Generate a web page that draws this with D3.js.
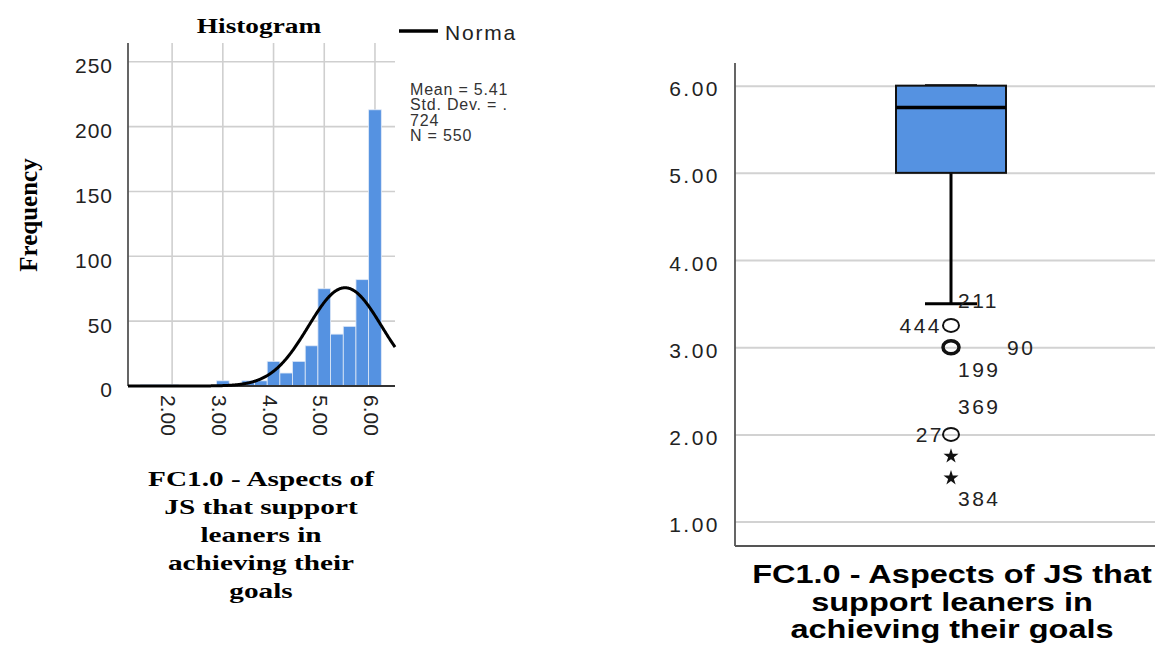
<!DOCTYPE html>
<html>
<head>
<meta charset="utf-8">
<script src="https://cdn.jsdelivr.net/npm/d3@7"></script>
<style>
  body { margin: 0; background: #fff; }
  text { font-family: "Liberation Sans", Arial, sans-serif; fill: #222; }
</style>
</head>
<body>
<div id="chart"></div>
<script>
// histogram data (bin centre, frequency)
const binCenters = [1.5, 1.75, 2.0, 3.0, 3.5, 3.75, 4.0, 4.25, 4.5, 4.75, 5.0, 5.25, 5.5, 5.75, 6.0];
const binCounts  = [1, 1, 1, 4, 4, 4, 19, 10, 19, 31, 75, 40, 46, 82, 213];
const binWidth = 0.25;
const histXTicks = [2, 3, 4, 5, 6];
const histYTicks = [0, 50, 100, 150, 200, 250];
const statMean = 5.41, statSd = 0.724, statN = 550;
const statLines = ["Mean = 5.41", "Std. Dev. = .", "724", "N = 550"];
const histTitleLines = ["FC1.0 - Aspects of", "JS that support", "leaners in", "achieving their", "goals"];

// boxplot data
const boxSummary = [3.5, 5, 5.75, 6, 6]; // low whisker, q1, median, q3, high whisker
const boxYTicks = [1, 2, 3, 4, 5, 6];
const outlierValues  = [3.25, 3, 2, 1.75, 1.5];
const outlierSymbols = ["circle", "bold", "circle", "star", "star"];
const caseIds    = ["211", "444", "90", "199", "369", "27", "384"];
const caseValues = [3.5, 3.25, 3, 3, 2, 2, 1.5];
const boxTitleLines = ["FC1.0 - Aspects of JS that", "support leaners in", "achieving their goals"];

const width = 1155, height = 648;
const blue = "#5592e1";
const serif = "'Liberation Serif', 'Times New Roman', serif";

const svg = d3.select("#chart").append("svg")
    .attr("width", width)
    .attr("height", height);

// ---------- histogram ----------
const hx = d3.scaleLinear().domain([1.13, 6.395]).range([128, 395]);
const hy = d3.scaleLinear().domain([0, 264.5]).range([386, 43]);

// gridlines
svg.append("g")
    .selectAll("line")
    .data(histXTicks)
    .join("line")
    .attr("x1", d => hx(d)).attr("x2", d => hx(d))
    .attr("y1", hy.range()[1]).attr("y2", hy(0))
    .attr("stroke", "#cfcfcf").attr("stroke-width", 1.6);
svg.append("g")
    .selectAll("line")
    .data(histYTicks.filter(d => d > 0))
    .join("line")
    .attr("x1", hx.range()[0]).attr("x2", hx.range()[1])
    .attr("y1", d => hy(d)).attr("y2", d => hy(d))
    .attr("stroke", "#cfcfcf").attr("stroke-width", 1.6);

// bars
svg.append("g")
    .selectAll("rect")
    .data(binCenters)
    .join("rect")
    .attr("x", d => hx(d - binWidth / 2))
    .attr("width", d => hx(d + binWidth / 2) - hx(d - binWidth / 2))
    .attr("y", (d, i) => hy(binCounts[i]))
    .attr("height", (d, i) => hy(0) - hy(binCounts[i]))
    .attr("fill", blue)
    .attr("stroke", "#dfe9f7")
    .attr("stroke-width", 0.8);

// axes
const hyAxis = svg.append("g")
    .attr("transform", `translate(${hx.range()[0]},0)`)
    .call(d3.axisLeft(hy).tickValues(histYTicks).tickSize(0).tickPadding(15));
hyAxis.select(".domain").remove();
hyAxis.selectAll("text")
    .attr("font-size", "21px")
    .attr("letter-spacing", "1px")
    .attr("dy", "0.52em")
    .style("font-family", "'Liberation Sans', Arial, sans-serif")
    .style("fill", "#222");

const hxAxis = svg.append("g")
    .attr("transform", `translate(0,${hy(0)})`)
    .call(d3.axisBottom(hx).tickValues(histXTicks).tickFormat(d3.format(".2f")).tickSize(0));
hxAxis.select(".domain").remove();
hxAxis.selectAll("text")
    .attr("transform", "rotate(90)")
    .attr("text-anchor", "start")
    .attr("x", 9)
    .attr("y", 4)
    .attr("dy", "0.35em")
    .attr("font-size", "21px")
    .style("font-family", "'Liberation Sans', Arial, sans-serif")
    .style("fill", "#222");

svg.append("line")
    .attr("x1", hx.range()[0]).attr("x2", hx.range()[0])
    .attr("y1", hy.range()[1]).attr("y2", hy(0))
    .attr("stroke", "#555").attr("stroke-width", 1.8);
svg.append("line")
    .attr("x1", hx.range()[0]).attr("x2", hx.range()[1])
    .attr("y1", hy(0)).attr("y2", hy(0))
    .attr("stroke", "#333").attr("stroke-width", 1.8);

// fitted normal curve from the shown stats
const normPdf = v => Math.exp(-0.5 * ((v - statMean) / statSd) ** 2) / (statSd * Math.sqrt(2 * Math.PI));
const curvePts = d3.range(hx.domain()[0], hx.domain()[1], 0.01).concat([hx.domain()[1]]);
svg.append("path")
    .datum(curvePts)
    .attr("d", d3.line().x(d => hx(d)).y(d => hy(statN * binWidth * normPdf(d))))
    .attr("fill", "none")
    .attr("stroke", "#000")
    .attr("stroke-width", 3);

// title, legend, stats
svg.append("text")
    .attr("transform", "translate(259,33) scale(1.3,1)")
    .attr("text-anchor", "middle")
    .attr("font-weight", "bold")
    .attr("font-size", "21px")
    .style("font-family", serif)
    .style("fill", "#000")
    .text("Histogram");

svg.append("line")
    .attr("x1", 399).attr("x2", 438)
    .attr("y1", 31).attr("y2", 31)
    .attr("stroke", "#000").attr("stroke-width", 3.5);
svg.append("text")
    .attr("x", 445).attr("y", 40)
    .attr("font-size", "21px")
    .attr("letter-spacing", "1.8px")
    .text("Norma");

svg.append("g")
    .selectAll("text")
    .data(statLines)
    .join("text")
    .attr("x", 410)
    .attr("y", (d, i) => 95 + i * 15.4)
    .attr("font-size", "16px")
    .attr("letter-spacing", "0.8px")
    .style("fill", "#333")
    .text(d => d);

svg.append("text")
    .attr("transform", "translate(37,215) rotate(-90)")
    .attr("text-anchor", "middle")
    .attr("font-weight", "bold")
    .attr("font-size", "25px")
    .style("font-family", serif)
    .style("fill", "#000")
    .text("Frequency");

svg.append("g")
    .selectAll("text")
    .data(histTitleLines)
    .join("text")
    .attr("transform", (d, i) => `translate(261,${486 + i * 27.9}) scale(1.33,1)`)
    .attr("text-anchor", "middle")
    .attr("font-weight", "bold")
    .attr("font-size", "22px")
    .style("font-family", serif)
    .style("fill", "#000")
    .text(d => d);

// ---------- boxplot ----------
const bLeft = 735, bRight = 1155, bCx = 951;
const by = d3.scaleLinear().domain([0.72, 6.26]).range([546, 63]);

const byAxis = svg.append("g")
    .attr("transform", `translate(${bLeft},0)`)
    .call(d3.axisLeft(by).tickValues(boxYTicks).tickFormat(d3.format(".2f"))
        .tickSizeInner(-(bRight - bLeft)).tickSizeOuter(0).tickPadding(15));
byAxis.select(".domain").remove();
byAxis.selectAll(".tick line")
    .attr("stroke", "#d2d2d2").attr("stroke-width", 2);
byAxis.selectAll("text")
    .attr("font-size", "21px")
    .attr("letter-spacing", "2.5px")
    .attr("dy", "0.48em")
    .style("font-family", "'Liberation Sans', Arial, sans-serif")
    .style("fill", "#222");

svg.append("line")
    .attr("x1", bLeft).attr("x2", bLeft)
    .attr("y1", by.range()[1]).attr("y2", by.range()[0])
    .attr("stroke", "#555").attr("stroke-width", 1.8);
svg.append("line")
    .attr("x1", bLeft).attr("x2", bRight)
    .attr("y1", by.range()[0]).attr("y2", by.range()[0])
    .attr("stroke", "#555").attr("stroke-width", 1.8);

const [wLo, q1, med, q3, wHi] = boxSummary;
const boxHalf = 55, capHalf = 26;
const boxG = svg.append("g");
boxG.append("line")
    .attr("x1", bCx).attr("x2", bCx)
    .attr("y1", by(q1)).attr("y2", by(wLo))
    .attr("stroke", "#000").attr("stroke-width", 3);
boxG.selectAll("line.cap")
    .data([wLo, wHi])
    .join("line")
    .attr("class", "cap")
    .attr("x1", bCx - capHalf).attr("x2", bCx + capHalf)
    .attr("y1", d => by(d)).attr("y2", d => by(d))
    .attr("stroke", "#000").attr("stroke-width", 3);
boxG.append("rect")
    .attr("x", bCx - boxHalf).attr("width", boxHalf * 2)
    .attr("y", by(q3)).attr("height", by(q1) - by(q3))
    .attr("fill", blue)
    .attr("stroke", "#111").attr("stroke-width", 2);
boxG.append("line")
    .attr("x1", bCx - boxHalf).attr("x2", bCx + boxHalf)
    .attr("y1", by(med)).attr("y2", by(med))
    .attr("stroke", "#000").attr("stroke-width", 3.5);

// outliers
outlierValues.forEach((v, i) => {
    const kind = outlierSymbols[i];
    if (kind === "star") {
        svg.append("path")
            .attr("d", d3.symbol().type(d3.symbolStar).size(70)())
            .attr("transform", `translate(${bCx},${by(v)})`)
            .attr("fill", "#111");
    } else {
        svg.append("ellipse")
            .attr("cx", bCx).attr("cy", by(v))
            .attr("rx", 8).attr("ry", 6.5)
            .attr("fill", "none")
            .attr("stroke", "#111")
            .attr("stroke-width", kind === "bold" ? 3.5 : 2);
    }
});

// case labels: placement relative to the point
const labelPlace = {
    "211": { dx: 7, dy: 4.5, anchor: "start" },
    "444": { dx: -9, dy: 7.5, anchor: "end" },
    "90":  { dx: 56, dy: 7.5, anchor: "start" },
    "199": { dx: 7, dy: 30, anchor: "start" },
    "369": { dx: 7, dy: -20, anchor: "start" },
    "27":  { dx: -7, dy: 7.5, anchor: "end" },
    "384": { dx: 7, dy: 28.5, anchor: "start" }
};
svg.append("g")
    .selectAll("text")
    .data(caseIds)
    .join("text")
    .attr("x", d => bCx + labelPlace[d].dx)
    .attr("y", (d, i) => by(caseValues[i]) + labelPlace[d].dy)
    .attr("text-anchor", d => labelPlace[d].anchor)
    .attr("font-size", "21px")
    .attr("letter-spacing", "2.5px")
    .text(d => d);

svg.append("g")
    .selectAll("text")
    .data(boxTitleLines)
    .join("text")
    .attr("transform", (d, i) => `translate(952,${583 + i * 27.5}) scale(1.3,1)`)
    .attr("text-anchor", "middle")
    .attr("font-weight", "bold")
    .attr("font-size", "25px")
    .style("fill", "#000")
    .text(d => d);
</script>
</body>
</html>
